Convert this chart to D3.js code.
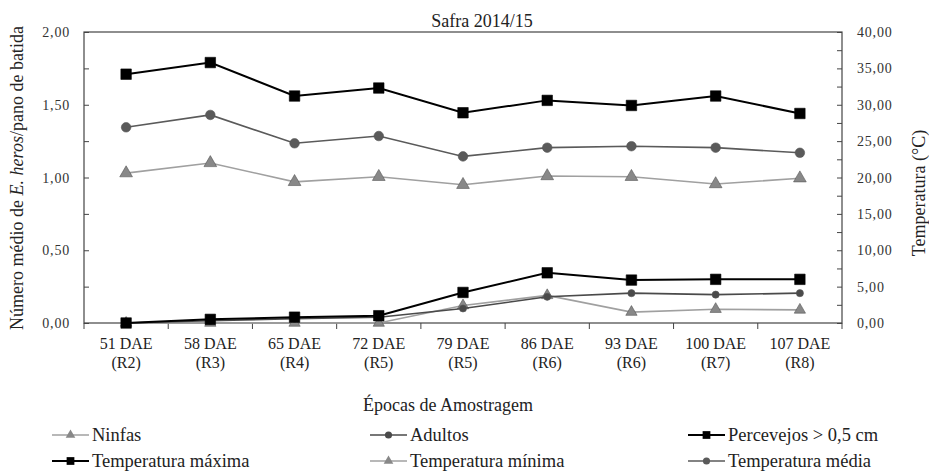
<!DOCTYPE html>
<html><head><meta charset="utf-8">
<script src="https://cdn.jsdelivr.net/npm/d3@7"></script>
<style>
body{margin:0;background:#fff;}
svg, svg text{font-family:"Liberation Serif","Tinos","Times New Roman","DejaVu Serif",serif;}
</style></head>
<body><svg id="c" width="929" height="471"></svg>
<script>
const categories = ["51 DAE","58 DAE","65 DAE","72 DAE","79 DAE","86 DAE","93 DAE","100 DAE","107 DAE"];
const stages = ["(R2)","(R3)","(R4)","(R5)","(R5)","(R6)","(R6)","(R7)","(R8)"];
const ninfas = [0,0,0,0,0.12,0.19,0.075,0.095,0.09];
const adultos = [0,0.015,0.03,0.04,0.10,0.18,0.205,0.195,0.205];
const percevejos = [0,0.025,0.04,0.05,0.21,0.345,0.295,0.30,0.30];
const tempMax = [34.2,35.8,31.2,32.3,28.9,30.6,29.9,31.2,28.8];
const tempMin = [20.6,22.0,19.4,20.1,19.0,20.2,20.1,19.1,19.9];
const tempMed = [26.9,28.6,24.7,25.7,22.9,24.1,24.3,24.1,23.4];
const leftTicks = [0,0.5,1,1.5,2];
const rightTicks = [0,5,10,15,20,25,30,35,40];

const FONT = "'Liberation Serif', Tinos, 'Times New Roman', 'DejaVu Serif', serif";
const svg = d3.select("#c").attr("font-family", FONT);
const L=84, R=842, T=32, B=323;
const x = d3.scaleBand().domain(categories).range([L,R]).padding(0);
const yL = d3.scaleLinear().domain([0,2]).range([B,T]);
const yR = d3.scaleLinear().domain([0,40]).range([B,T]);
const fmt = v => d3.format(".2f")(v).replace(".",",");
const axisCol = "#444";

// frame
svg.append("rect").attr("x",L).attr("y",T).attr("width",R-L).attr("height",B-T)
  .attr("fill","none").attr("stroke",axisCol).attr("stroke-width",1.2);

// left axis
const gl = svg.append("g").attr("transform",`translate(${L},0)`)
  .call(d3.axisLeft(yL).tickValues(d3.range(0,2.01,0.25)).tickSize(-5).tickFormat(""));
gl.select(".domain").remove();
gl.selectAll("line").attr("stroke",axisCol);
svg.append("g").selectAll("text").data(leftTicks).join("text")
  .attr("font-family",FONT)
  .attr("x",70).attr("y",d=>yL(d)+5).attr("text-anchor","end")
  .attr("font-size",14).attr("letter-spacing",0.8).attr("fill","#333").text(fmt);

// right axis
const gr = svg.append("g").attr("transform",`translate(${R},0)`)
  .call(d3.axisRight(yR).tickValues(d3.range(0,40.1,2.5)).tickSize(-5).tickFormat(""));
gr.select(".domain").remove();
gr.selectAll("line").attr("stroke",axisCol);
svg.append("g").selectAll("text").data(rightTicks).join("text")
  .attr("font-family",FONT)
  .attr("x",857).attr("y",d=>yR(d)+5).attr("text-anchor","start")
  .attr("font-size",14).attr("letter-spacing",0.8).attr("fill","#333").text(fmt);

// x axis ticks (outward)
const gx = svg.append("g").attr("transform",`translate(0,${B})`);
const bounds = d3.range(categories.length+1).map(i=>L+i*x.bandwidth());
gx.selectAll("line").data(bounds).join("line")
  .attr("x1",d=>d).attr("x2",d=>d).attr("y1",0).attr("y2",6).attr("stroke",axisCol);
svg.append("g").selectAll("text").data(categories).join("text")
  .attr("font-family",FONT)
  .attr("x",d=>x(d)+x.bandwidth()/2).attr("y",349).attr("text-anchor","middle")
  .attr("font-size",16).attr("fill","#222").text(d=>d);
svg.append("g").selectAll("text").data(stages).join("text")
  .attr("font-family",FONT)
  .attr("x",(d,i)=>x(categories[i])+x.bandwidth()/2).attr("y",368).attr("text-anchor","middle")
  .attr("font-size",16).attr("fill","#222").text(d=>d);

// titles
svg.append("text").attr("font-family",FONT).attr("x",482).attr("y",27).attr("text-anchor","middle")
  .attr("font-size",18).attr("fill","#222").text("Safra 2014/15");
svg.append("text").attr("font-family",FONT).attr("x",448).attr("y",411).attr("text-anchor","middle")
  .attr("font-size",18).attr("fill","#222").text("Épocas de Amostragem");
const yt = svg.append("text").attr("font-family",FONT).attr("transform","translate(23,178) rotate(-90)")
  .attr("text-anchor","middle").attr("font-size",18).attr("fill","#222");
yt.append("tspan").text("Número médio de ");
yt.append("tspan").attr("font-style","italic").text("E. heros");
yt.append("tspan").text("/pano de batida");
svg.append("text").attr("font-family",FONT).attr("transform","translate(925,193) rotate(-90)")
  .attr("text-anchor","middle").attr("font-size",18).attr("fill","#222").text("Temperatura (°C)");

// series
const series = [
  {name:"Temperatura mínima", vals:tempMin, y:yR, shape:d3.symbolTriangle, size:70, fill:"#888", line:"#a0a0a0", lw:1.6},
  {name:"Temperatura média", vals:tempMed, y:yR, shape:d3.symbolCircle, size:72, fill:"#5a5a5a", line:"#5a5a5a", lw:1.6},
  {name:"Temperatura máxima", vals:tempMax, y:yR, shape:d3.symbolSquare, size:110, fill:"#000", line:"#000", lw:2},
  {name:"Ninfas", vals:ninfas, y:yL, shape:d3.symbolTriangle, size:55, fill:"#888", line:"#a0a0a0", lw:1.6},
  {name:"Adultos", vals:adultos, y:yL, shape:d3.symbolCircle, size:40, fill:"#4a4a4a", line:"#4a4a4a", lw:1.6},
  {name:"Percevejos > 0,5 cm", vals:percevejos, y:yL, shape:d3.symbolSquare, size:110, fill:"#000", line:"#000", lw:2}
];
const cx = i => x(categories[i]) + x.bandwidth()/2;
series.forEach(s=>{
  const line = d3.line().x((d,i)=>cx(i)).y(d=>s.y(d));
  svg.append("path").datum(s.vals).attr("d",line).attr("fill","none")
    .attr("stroke",s.line).attr("stroke-width",s.lw);
  svg.append("g").selectAll("path").data(s.vals).join("path")
    .attr("transform",(d,i)=>`translate(${cx(i)},${s.y(d)})`)
    .attr("d",d3.symbol().type(s.shape).size(s.size)).attr("fill",s.fill)
    .attr("stroke",s.fill==="#000"?"#000":"#555").attr("stroke-width",0.6);
});

// legend
const legendOrder = [
  {s:series[3], x:52, y:435},{s:series[4], x:370, y:435},{s:series[5], x:688, y:435},
  {s:series[2], x:52, y:461},{s:series[0], x:370, y:461},{s:series[1], x:688, y:461}
];
const lg = svg.append("g");
legendOrder.forEach(o=>{
  const g = lg.append("g").attr("transform",`translate(${o.x},${o.y})`);
  g.append("line").attr("x1",0).attr("x2",37).attr("y1",0).attr("y2",0)
    .attr("stroke",o.s.line).attr("stroke-width",o.s.lw);
  g.append("path").attr("transform","translate(18.5,0)")
    .attr("d",d3.symbol().type(o.s.shape).size(o.s.shape===d3.symbolSquare?60:40))
    .attr("fill",o.s.fill);
  g.append("text").attr("font-family",FONT).attr("x",40).attr("y",6).attr("font-size",18.5).attr("fill","#222").text(o.s.name);
});
</script></body></html>
